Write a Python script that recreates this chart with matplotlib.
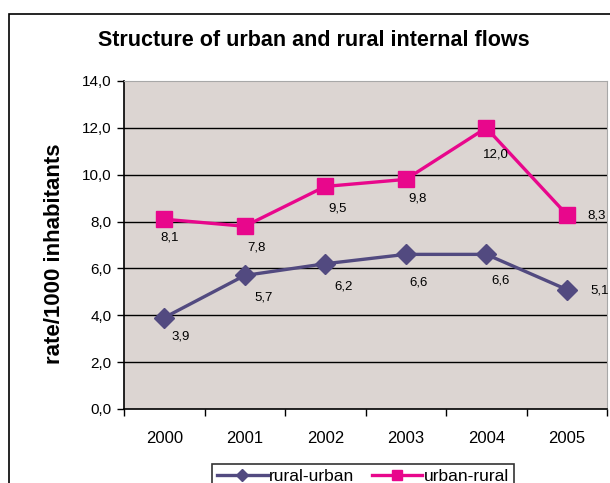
import matplotlib.pyplot as plt
from matplotlib.patches import Rectangle

years = ['2000', '2001', '2002', '2003', '2004', '2005']
rural_urban = [3.9, 5.7, 6.2, 6.6, 6.6, 5.1]
urban_rural = [8.1, 7.8, 9.5, 9.8, 12.0, 8.3]

# label offsets (pixels) as Excel placed them
off_ru = [(16, -19), (19, -22), (18, -23), (13, -28), (14, -26), (33, -1)]
off_ur = [(5, -18), (12, -21), (12, -22), (12, -19), (10, -27), (30, -1)]

plt.rcParams['font.family'] = ['Liberation Sans', 'DejaVu Sans']

W, H = 610, 483
fig = plt.figure(figsize=(W / 100, H / 100), dpi=100)
fig.patch.set_facecolor('white')

# chart area border (cut off at right and bottom)
fig.patches.append(Rectangle((9 / W, -0.1), 2, 1.1 - 14 / H, transform=fig.transFigure,
                             fill=False, edgecolor='black', linewidth=1.2))

ax = fig.add_axes([124 / W, 1 - 409 / H, (607 - 124) / W, (409 - 81) / H])
ax.set_facecolor('#DCD5D2')

x = range(len(years))
c_ru = '#524A80'
c_ur = '#E8078C'
ax.plot(x, rural_urban, color=c_ru, lw=2.4, marker='D', ms=10, label='rural-urban', zorder=3)
ax.plot(x, urban_rural, color=c_ur, lw=2.4, marker='s', ms=12, label='urban-rural', zorder=3)

for i, v in enumerate(rural_urban):
    ax.annotate(f'{v:.1f}'.replace('.', ','), (i, v), xytext=off_ru[i], textcoords='offset pixels',
                ha='center', va='center', fontsize=9.5, annotation_clip=False)
for i, v in enumerate(urban_rural):
    ax.annotate(f'{v:.1f}'.replace('.', ','), (i, v), xytext=off_ur[i], textcoords='offset pixels',
                ha='center', va='center', fontsize=9.5, annotation_clip=False)

ax.set_xlim(-0.5, len(years) - 0.5)
ax.set_ylim(0, 14)
yt = [0, 2, 4, 6, 8, 10, 12, 14]
ax.set_yticks(yt)
ax.set_yticklabels([f'{v:.1f}'.replace('.', ',') for v in yt], fontsize=11)
for v in yt[1:-1]:
    ax.axhline(v, color='black', lw=1, zorder=1)

ax.set_xticks([i - 0.5 for i in range(len(years) + 1)])
ax.set_xticklabels([])
ax.set_xticks(list(x), minor=True)
ax.set_xticklabels(years, minor=True, fontsize=12)
ax.tick_params(axis='x', which='minor', length=0, pad=16)
ax.tick_params(axis='x', which='major', length=5, width=1, direction='out')
ax.tick_params(axis='y', length=5, width=1, direction='out', pad=4)

ax.spines['left'].set_color('black')
ax.spines['bottom'].set_color('black')
ax.spines['left'].set_linewidth(1.2)
ax.spines['bottom'].set_linewidth(1.2)
ax.spines['top'].set_color('#A8A8A8')
ax.spines['right'].set_color('#A8A8A8')

fig.text(55 / W, 1 - 254 / H, 'rate/1000 inhabitants', rotation=90,
         ha='center', va='center', fontsize=16, fontweight='bold')
fig.text(314 / W, 1 - 40 / H, 'Structure of urban and rural internal flows',
         ha='center', va='center', fontsize=15.5, fontweight='bold')

leg = fig.legend(loc='upper left', bbox_to_anchor=(212 / W, 1 - 464 / H), ncol=2,
                 fontsize=12.5, frameon=True, fancybox=False, markerscale=0.6,
                 handlelength=2.9, handletextpad=0.1, columnspacing=1.0,
                 borderaxespad=0, borderpad=0.3)
leg.get_frame().set_edgecolor('black')
leg.get_frame().set_linewidth(1.2)

fig.savefig('out.png', dpi=100)
